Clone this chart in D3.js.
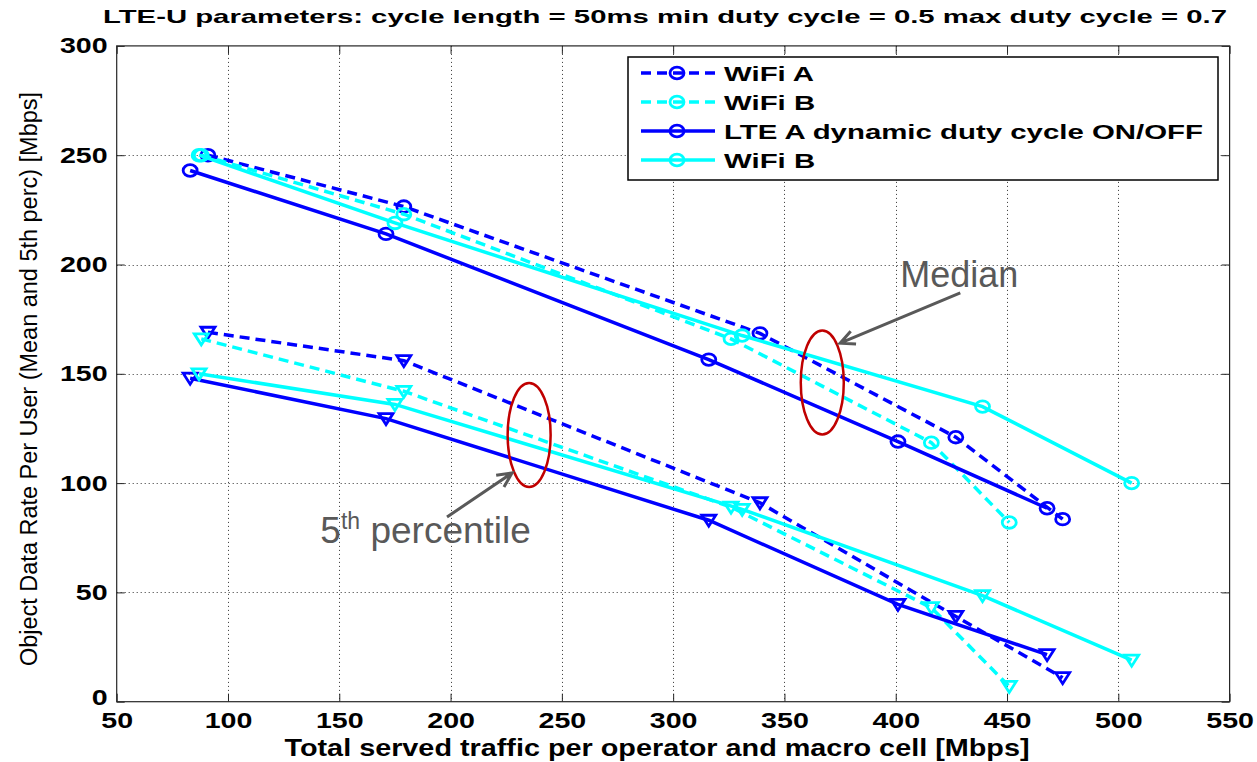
<!DOCTYPE html>
<html><head><meta charset="utf-8">
<script src="https://cdn.jsdelivr.net/npm/d3@7"></script>
<style>body{margin:0;background:#fff} text{font-family:"Liberation Sans",Arial,Helvetica,sans-serif}</style>
</head><body>
<svg id="c" width="1257" height="762"></svg>
<script>
// ---- data ----
const titleText = "LTE-U parameters: cycle length = 50ms min duty cycle = 0.5 max duty cycle = 0.7";
const xLabel = "Total served traffic per operator and macro cell [Mbps]";
const yLabel = "Object Data Rate Per User (Mean and 5th perc) [Mbps]";
const seriesNames = ["WiFi A", "WiFi B", "LTE A dynamic duty cycle ON/OFF", "WiFi B"];
const trafficWifiA = [91, 179, 339, 427, 475];
const medianWifiA = [250, 226.5, 168.5, 121, 83.5];
const p5WifiA = [169, 156, 91, 39, 11];
const trafficWifiBdash = [88, 179, 326, 416, 451];
const medianWifiBdash = [250, 223, 166, 118.5, 82];
const p5WifiBdash = [166, 142, 89, 43, 7];
const trafficLteA = [83, 171, 316, 401, 468];
const medianLteA = [243, 214, 156.5, 119, 88.5];
const p5LteA = [148, 129.5, 83, 44.5, 21.5];
const trafficWifiBsolid = [87, 175, 331, 439, 506];
const medianWifiBsolid = [250, 219, 167.5, 135, 100];
const p5WifiBsolid = [150, 136, 88, 48.5, 19];
const xTicks = [50, 100, 150, 200, 250, 300, 350, 400, 450, 500, 550];
const yTicks = [0, 50, 100, 150, 200, 250, 300];
// annotation anchors in data units
const medianNote = {text: "Median", x: 402, y: 189.5, ell: [367, 146], arrowFrom: [429, 187], arrowTo: [375, 164]};
const p5Note = {x: 141.5, y: 72.6, ell: [235.3, 122], arrowFrom: [198.4, 84.5], arrowTo: [227.6, 104.6]};

// ---- styles ----
const styles = [
  {color: "#0000ff", dash: "10,6"},
  {color: "#00ffff", dash: "10,6"},
  {color: "#0000ff", dash: null},
  {color: "#00ffff", dash: null}
];
const series = [
  {x: trafficWifiA, med: medianWifiA, p5: p5WifiA},
  {x: trafficWifiBdash, med: medianWifiBdash, p5: p5WifiBdash},
  {x: trafficLteA, med: medianLteA, p5: p5LteA},
  {x: trafficWifiBsolid, med: medianWifiBsolid, p5: p5WifiBsolid}
];

const svg = d3.select("#c");
svg.append("rect").attr("width", 1257).attr("height", 762).attr("fill", "#fff");
const L = 116.7, R = 1229.6, T = 45.9, B = 701.7;
const x = d3.scaleLinear([50, 550], [L, R]);
const y = d3.scaleLinear([0, 300], [B, T]);
const SX = 1.25, SXL = 1.4;

// grid
const grid = svg.append("g").attr("stroke", "#333").attr("stroke-width", 1).attr("stroke-dasharray", "1,3");
grid.selectAll(".gx").data(xTicks.slice(1, -1)).join("line")
  .attr("x1", d => Math.round(x(d)) + 0.5).attr("x2", d => Math.round(x(d)) + 0.5).attr("y1", T).attr("y2", B);
grid.selectAll(".gy").data(yTicks.slice(1, -1)).join("line")
  .attr("y1", d => Math.round(y(d)) + 0.5).attr("y2", d => Math.round(y(d)) + 0.5).attr("x1", L).attr("x2", R);

// axes
const fontAxis = g => g.selectAll("text").attr("font-size", 22).attr("font-weight", "bold").attr("fill", "#000");
const gb = svg.append("g").attr("transform", `translate(0,${B})`)
  .call(d3.axisBottom(x).tickValues(xTicks).tickSizeInner(-8).tickSizeOuter(0).tickPadding(11));
gb.call(fontAxis); gb.selectAll("text").attr("transform", `scale(${SX + 0.05},1)`);
const gl = svg.append("g").attr("transform", `translate(${L},0)`)
  .call(d3.axisLeft(y).tickValues(yTicks).tickSizeInner(-8).tickSizeOuter(0).tickPadding(7));
gl.call(fontAxis); gl.selectAll("text").attr("transform", `scale(${SX + 0.05},1)`);
gl.selectAll(".tick").filter(d => d === 0).select("text").attr("dy", "0.12em");
const gt = svg.append("g").attr("transform", `translate(0,${T})`)
  .call(d3.axisTop(x).tickValues(xTicks).tickSizeInner(-8).tickSizeOuter(0).tickFormat(""));
const gr = svg.append("g").attr("transform", `translate(${R},0)`)
  .call(d3.axisRight(y).tickValues(yTicks).tickSizeInner(-8).tickSizeOuter(0).tickFormat(""));
[gb, gl, gt, gr].forEach(g => { g.select(".domain").remove(); g.selectAll("line").attr("stroke", "#262626"); });
svg.append("rect").attr("x", L).attr("y", T).attr("width", R - L).attr("height", B - T)
  .attr("fill", "none").attr("stroke", "#262626").attr("stroke-width", 1.2);

// lines + markers
const line = d3.line().x(d => x(d[0])).y(d => y(d[1]));
const tri = "M-7,-5L7,-5L0,6Z";
series.forEach((s, i) => {
  const st = styles[i];
  const med = s.x.map((v, j) => [v, s.med[j]]);
  const p5 = s.x.map((v, j) => [v, s.p5[j]]);
  [med, p5].forEach((pts, k) => {
    svg.append("path").datum(pts).attr("d", line).attr("fill", "none")
      .attr("stroke", st.color).attr("stroke-width", 3.5).attr("stroke-dasharray", st.dash);
    const m = svg.append("g");
    if (k === 0) {
      m.selectAll("ellipse").data(pts).join("ellipse").attr("cx", d => x(d[0])).attr("cy", d => y(d[1]))
        .attr("rx", 7).attr("ry", 5.8).attr("fill", "none").attr("stroke", st.color).attr("stroke-width", 2.8);
    } else {
      m.selectAll("path").data(pts).join("path").attr("d", tri)
        .attr("transform", d => `translate(${x(d[0])},${y(d[1])})`)
        .attr("fill", "none").attr("stroke", st.color).attr("stroke-width", 2.8).attr("stroke-linejoin", "miter");
    }
  });
});

// legend
const lg = svg.append("g");
lg.append("rect").attr("x", 628).attr("y", 57).attr("width", 590).attr("height", 123)
  .attr("fill", "#fff").attr("stroke", "#000").attr("stroke-width", 1.5);
seriesNames.forEach((name, i) => {
  const yy = 73 + i * 29;
  const st = styles[i];
  lg.append("line").attr("x1", 641).attr("x2", 715).attr("y1", yy).attr("y2", yy)
    .attr("stroke", st.color).attr("stroke-width", 3.5).attr("stroke-dasharray", st.dash);
  lg.append("ellipse").attr("cx", 677).attr("cy", yy).attr("rx", 7).attr("ry", 5.8)
    .attr("fill", "none").attr("stroke", st.color).attr("stroke-width", 2.8);
  lg.append("text").attr("transform", `translate(724,${yy + 7.5}) scale(${SXL},1)`)
    .attr("font-size", 21).attr("font-weight", "bold").text(name);
});

// title & axis labels
svg.append("text").attr("x", 665).attr("y", 23).attr("text-anchor", "middle")
  .attr("font-size", 19).attr("font-weight", "bold").attr("textLength", 1124)
  .attr("lengthAdjust", "spacingAndGlyphs").text(titleText);
svg.append("text").attr("x", 657).attr("y", 756).attr("text-anchor", "middle")
  .attr("font-size", 23).attr("font-weight", "bold").attr("textLength", 745)
  .attr("lengthAdjust", "spacingAndGlyphs").text(xLabel);
svg.append("text").attr("transform", "translate(37,379) rotate(-90)").attr("text-anchor", "middle")
  .attr("font-size", 23).attr("textLength", 574).attr("lengthAdjust", "spacingAndGlyphs").text(yLabel);

// annotations
const gray = "#595959", red = "#c00000";
function arrow(from, to) {
  const x1 = x(from[0]), y1 = y(from[1]), x2 = x(to[0]), y2 = y(to[1]);
  const a = Math.atan2(y2 - y1, x2 - x1), h = 16, w = 0.45;
  svg.append("path").attr("d",
    `M${x1},${y1}L${x2},${y2}M${x2 - h * Math.cos(a - w)},${y2 - h * Math.sin(a - w)}L${x2},${y2}L${x2 - h * Math.cos(a + w)},${y2 - h * Math.sin(a + w)}`)
    .attr("fill", "none").attr("stroke", gray).attr("stroke-width", 3);
}
[medianNote, p5Note].forEach(n => {
  svg.append("ellipse").attr("cx", x(n.ell[0])).attr("cy", y(n.ell[1])).attr("rx", 21.5).attr("ry", 52)
    .attr("fill", "none").attr("stroke", red).attr("stroke-width", 2.5);
  arrow(n.arrowFrom, n.arrowTo);
});
svg.append("text").attr("x", x(medianNote.x)).attr("y", y(medianNote.y)).attr("font-size", 36)
  .attr("fill", gray).text(medianNote.text);
const t5 = svg.append("text").attr("x", x(p5Note.x)).attr("y", y(p5Note.y)).attr("font-size", 37).attr("fill", gray);
t5.append("tspan").text("5");
t5.append("tspan").attr("font-size", 23).attr("dy", -14).text("th");
t5.append("tspan").attr("dy", 14).text(" percentile");
</script>
</body></html>
